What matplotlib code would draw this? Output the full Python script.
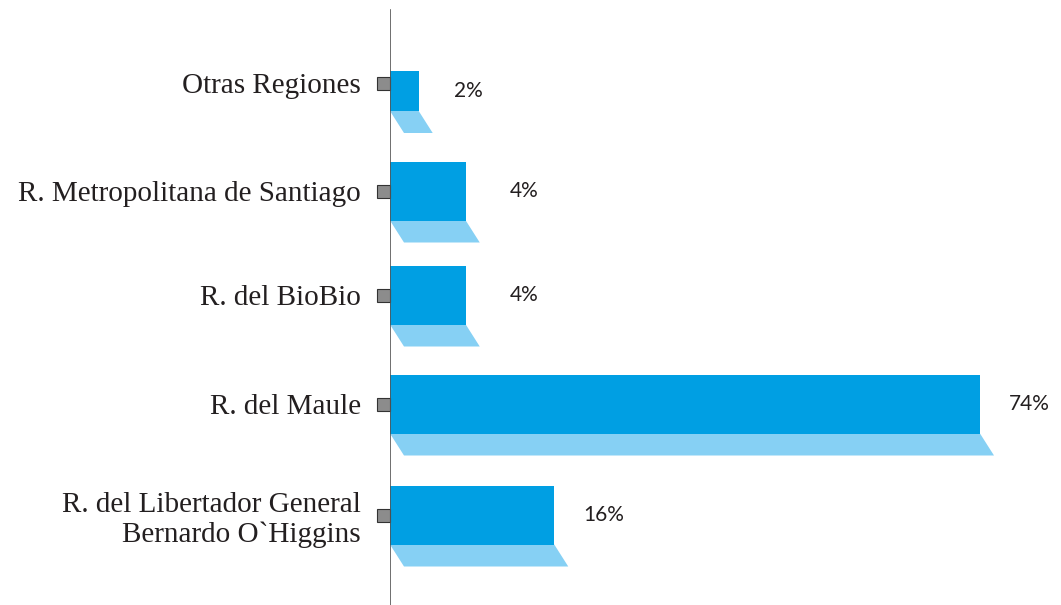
import matplotlib
matplotlib.use('Agg')
import matplotlib.pyplot as plt
from matplotlib.patches import Polygon, Rectangle

# Regions, top to bottom
regions = ['Otras Regiones',
           'R. Metropolitana de Santiago',
           'R. del BioBio',
           'R. del Maule',
           'R. del Libertador General\nBernardo O`Higgins']
pct_labels = ['2%', '4%', '4%', '74%', '16%']
# drawn bar lengths (the original is not to scale)
bar_len = [3.6, 9.5, 9.5, 74.0, 20.6]

BAR = '#009fe3'
SHADOW = '#86d0f4'
TEXT = '#231f20'

W, H = 1061, 605
fig = plt.figure(figsize=(W / 100, H / 100), dpi=100)
ax_left = 390 / W
ax = fig.add_axes([ax_left, 0, 1 - ax_left, 1])

px_x = 590 / 74.0      # pixels per data unit along x
ax.set_xlim(0, (W - 390) / px_x)
ax.set_ylim(H, 0)      # y axis runs in pixel rows

# layout (pixel rows of each category, gap between bar end and its label)
rows = [83, 191, 295, 404, 515]
label_gap = [35, 44, 44, 29, 29]

shift = 14 / px_x
sh_h = 22
for i, (L, lab) in enumerate(zip(bar_len, pct_labels)):
    if i == 0:
        h, c = 40, rows[i] + 8
    else:
        h, c = 59, rows[i]
    top, bot = c - h / 2, c + h / 2
    ax.add_patch(Rectangle((0, top), L, h, facecolor=BAR, edgecolor='none', zorder=2))
    ax.add_patch(Polygon([(0, bot), (L, bot), (L + shift, bot + sh_h), (shift, bot + sh_h)],
                         closed=True, facecolor=SHADOW, edgecolor='none', zorder=1))
    ax.text(L + label_gap[i] / px_x, c, lab, va='center', ha='left', fontsize=15,
            family='Lato', color=TEXT)
    # small grey tick marker left of the axis
    ax.add_patch(Rectangle((-13 / px_x, rows[i] - 6.5), 13 / px_x, 13,
                           facecolor='#8c8c8c', edgecolor='#333333', linewidth=0.8,
                           clip_on=False, zorder=3))

ax.axvline(0, ymin=0, ymax=1 - 10 / H, color='#555555', linewidth=1.2, zorder=4)

ax.set_yticks(rows)
ax.set_yticklabels(regions, fontsize=21, family='Liberation Serif', color=TEXT,
                   ha='right', multialignment='right', linespacing=1.2)
ax.tick_params(axis='y', length=0, pad=21)
ax.set_xticks([])
for s in ax.spines.values():
    s.set_visible(False)

fig.savefig('out.png', dpi=100)
